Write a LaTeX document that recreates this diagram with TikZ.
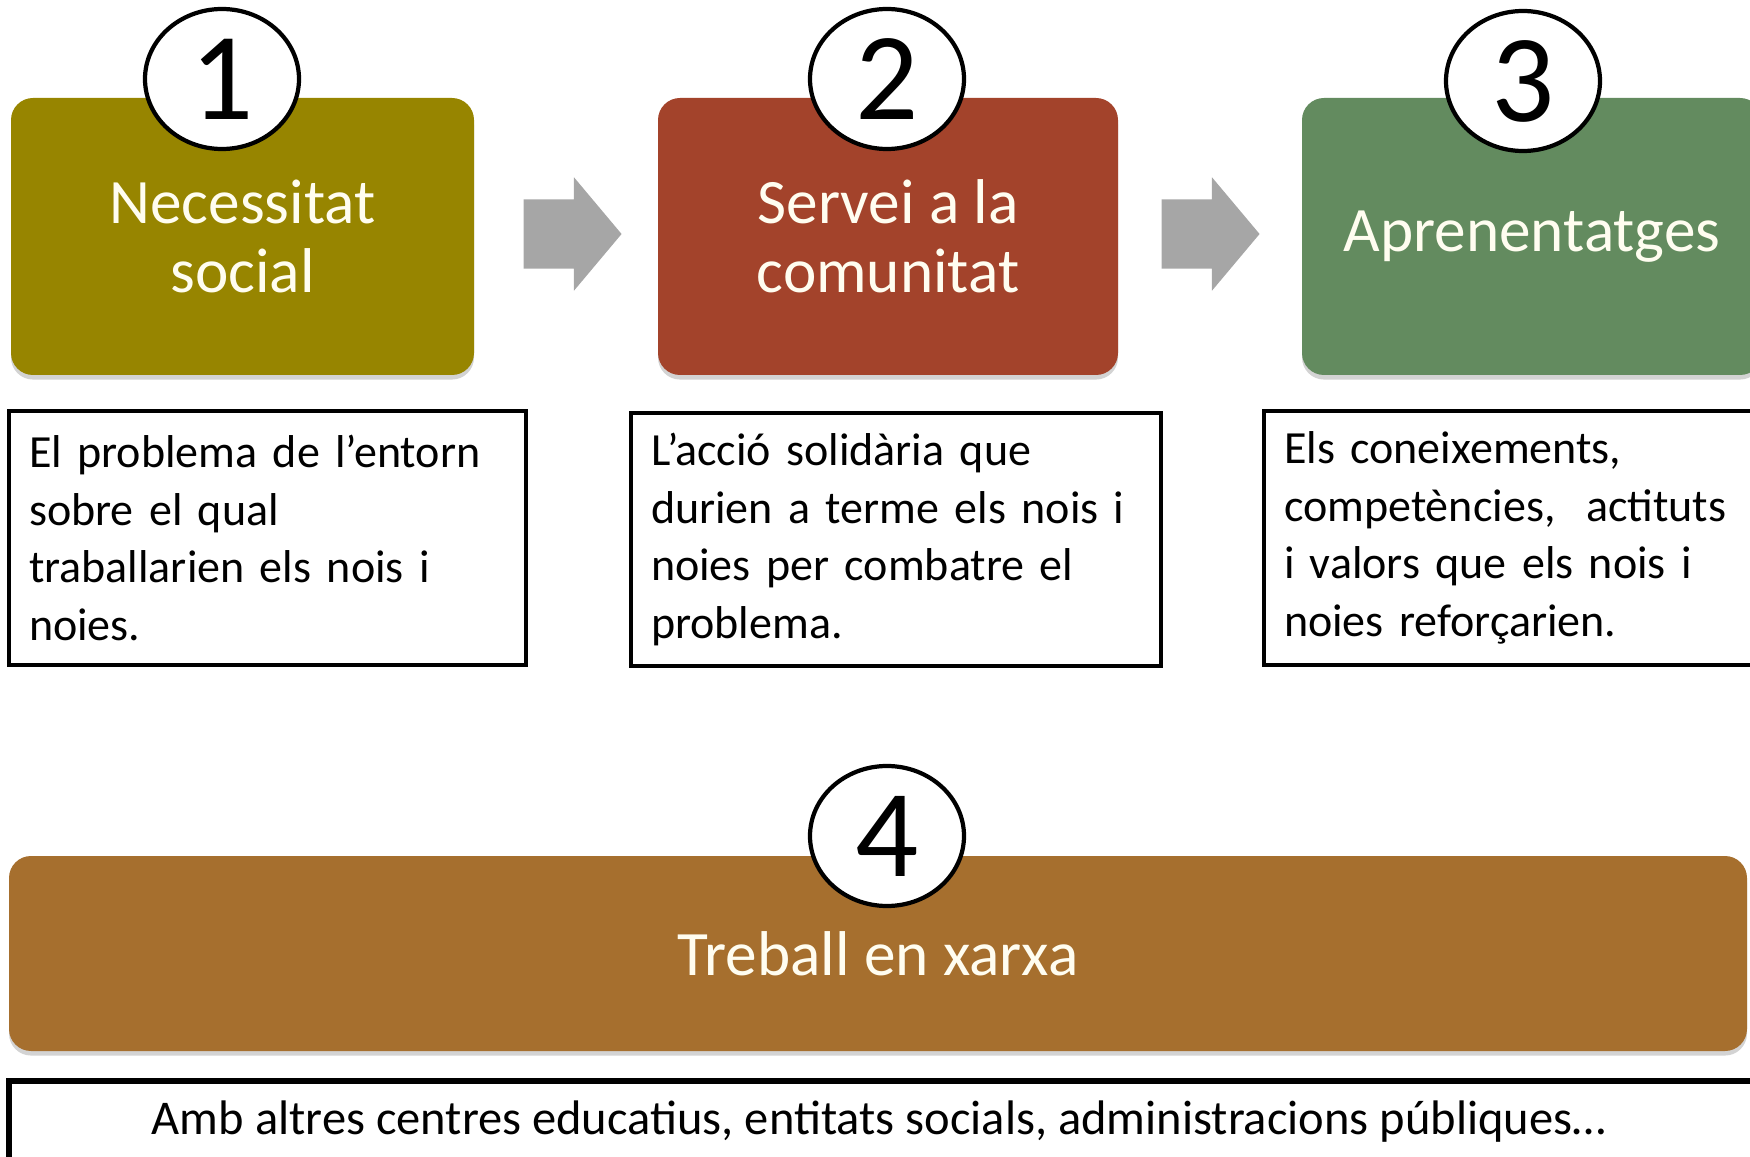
\documentclass[tikz,border=0pt]{standalone}
\usepackage{fontspec}
\setmainfont{Carlito}
\usepackage{tikz}
\usepackage{xcolor}
\usetikzlibrary{shapes.geometric,shapes.arrows,shadows}
\definecolor{needcol}{HTML}{978500}
\definecolor{servcol}{HTML}{A3432B}
\definecolor{learncol}{HTML}{638B5F}
\definecolor{netcol}{HTML}{A66F2E}
\definecolor{arrowgray}{HTML}{A6A6A6}
\definecolor{cream}{HTML}{FFFDF0}

\begin{document}
\begin{tikzpicture}[x=0.1mm,y=-0.1mm,
    stepbox/.style={rounded corners=2.2mm,minimum height=2.77cm,text=cream,
                    align=center,inner sep=0pt,
                    drop shadow={shadow xshift=0pt,shadow yshift=-1.3pt,opacity=0.35},
                    font=\fontsize{18}{19.6}\selectfont},
    note/.style={draw,line width=1.4pt,align=left,inner xsep=0.2cm,inner ysep=0pt,
                 font=\fontsize{13.1}{16.4}\selectfont},
    badge/.style={ellipse,draw,line width=1.2pt,fill=white,minimum width=1.54cm,
                  minimum height=1.4cm,inner sep=0pt,font=\fontsize{35.5}{35.5}\selectfont},
    flow/.style={single arrow,fill=arrowgray,inner xsep=0pt,inner ysep=0.34cm,
                 minimum height=0.98cm,minimum width=1.12cm,
                 single arrow head extend=0.22cm,single arrow tip angle=100}]
    \useasboundingbox (0,0) rectangle (1750,1157);
    \clip (0,0) rectangle (1750,1157);
    % the three steps
    \node[stepbox,fill=needcol,minimum width=4.63cm] (need) at (242.5,236.5) {Necessitat\\social};
    \node[stepbox,fill=servcol,minimum width=4.60cm] (serv) at (888,236.5) {Servei a la\\comunitat};
    \node[stepbox,fill=learncol,minimum width=4.60cm] (learn) at (1532,236.5) {Aprenentatges};
    \node[flow] (ar1) at (558,234) {};
    \node[flow] (ar2) at (1196,234) {};
    % explanations
    \node[note,text width=4.77cm,minimum height=2.54cm] (needtxt) at (267.5,538)
        {El problema de l’entorn\\sobre el qual\\traballarien els nois i\\noies.};
    \node[note,text width=4.90cm,minimum height=2.53cm] (servtxt) at (896,539.5)
        {L’acció solidària que\\durien a terme els nois i\\noies per combatre el\\problema.};
    \node[note,text width=4.90cm,minimum height=2.54cm] (learntxt) at (1529,538)
        {Els coneixements,\\competències,~ actituts\\i valors que els nois i\\noies reforçarien.};
    % network
    \node[stepbox,fill=netcol,minimum width=17.38cm,minimum height=1.95cm] (net) at (878,953.5)
        {Treball en xarxa};
    \node[note,line width=1.7pt,minimum width=17.6cm,minimum height=0.82cm,align=center,
          font=\fontsize{13.8}{16.4}\selectfont] (nettxt) at (889,1122)
        {\hspace*{-0.2cm}Amb altres centres educatius, entitats socials, administracions públiques…};
    % numbers
    \node[badge] (b1) at (222,79) {1};
    \node[badge] (b2) at (887,79) {2};
    \node[badge] (b3) at (1523,81) {3};
    \node[badge] (b4) at (887,836) {4};
\end{tikzpicture}
\end{document}
